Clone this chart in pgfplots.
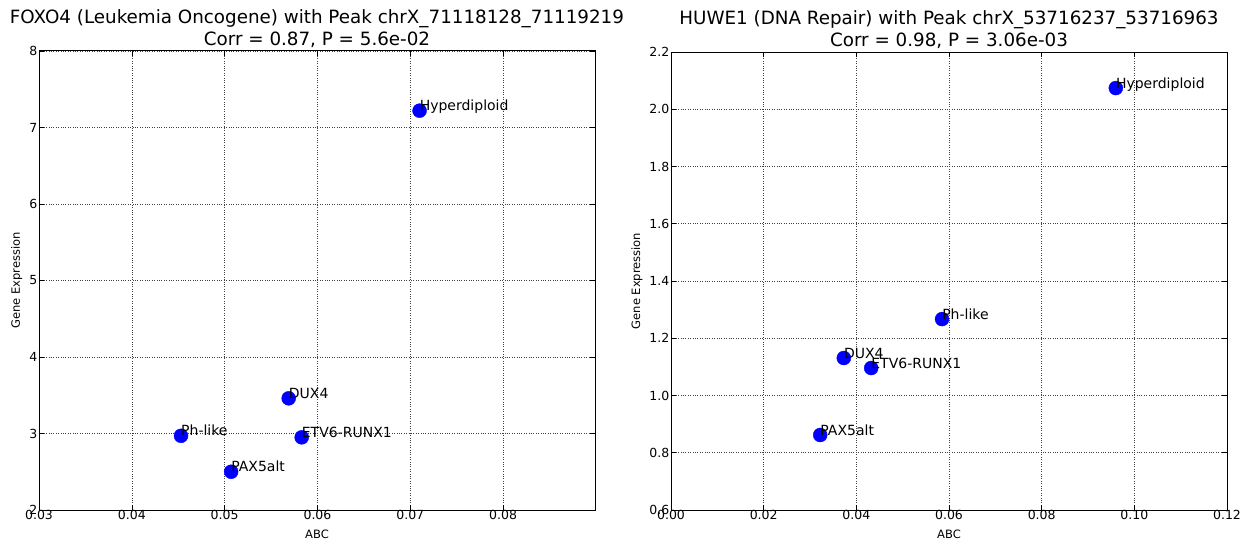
\documentclass[border=0pt]{standalone}
\usepackage{fontspec}
\setmainfont{DejaVu Sans}
\usepackage{pgfplots}
\pgfplotsset{compat=1.18}
\begin{document}
\begin{tikzpicture}[x=1pt,y=1pt]
\pgfplotsset{
  myax/.style={
    scale only axis, width=556pt, height=459pt,
    anchor=south west,
    axis line style={black, line width=1pt},
    tick align=inside, major tick length=5pt,
    tick style={black, line width=0.6pt},
    grid=major, major grid style={black!75, dotted, line width=0.6pt},
    /pgf/number format/assume math mode=true,
    scaled ticks=false,
    tick label style={font=\fontsize{12.5}{14}\selectfont},
    xticklabel style={inner sep=1pt, yshift=1pt},
    yticklabel style={inner sep=1.5pt},
    label style={font=\fontsize{11.5}{13}\selectfont},
    xlabel={ABC}, ylabel={Gene Expression},
    xlabel style={yshift=-6pt},
    ylabel style={yshift=2pt},
    title style={font=\fontsize{18.3}{22}\selectfont, align=center, yshift=-6pt},
    nodes near coords style={anchor=base west, inner sep=0pt, text=black,
      font=\fontsize{14}{16}\selectfont},
  }
}
\begin{axis}[myax, at={(39pt,32pt)},
  xmin=0.03, xmax=0.0899, ymin=2, ymax=8,
  xtick={0.03,0.04,0.05,0.06,0.07,0.08},
  ytick={2,3,4,5,6,7,8},
  xticklabel style={/pgf/number format/fixed, /pgf/number format/precision=2, /pgf/number format/fixed zerofill},
  title={FOXO4 (Leukemia Oncogene) with Peak chrX\_71118128\_71119219\\Corr = 0.87, P = 5.6e-02}]
\addplot[only marks, mark=*, mark size=7pt, color={rgb,1:red,0;green,0;blue,1},
  nodes near coords, point meta=explicit symbolic]
  table[meta=label] {
x y label
0.0710 7.22 Hyperdiploid
0.0569 3.46 DUX4
0.0453 2.97 Ph-like
0.0507 2.50 PAX5alt
0.0583 2.95 ETV6-RUNX1
};
\end{axis}
\begin{axis}[myax, at={(671pt,32pt)}, height=458pt,
  xmin=0, xmax=0.12, ymin=0.6, ymax=2.2,
  xtick={0,0.02,0.04,0.06,0.08,0.10,0.12},
  ytick={0.6,0.8,1.0,1.2,1.4,1.6,1.8,2.0,2.2},
  xticklabel style={/pgf/number format/fixed, /pgf/number format/precision=2, /pgf/number format/fixed zerofill},
  yticklabel style={/pgf/number format/fixed, /pgf/number format/precision=1, /pgf/number format/fixed zerofill},
  title={HUWE1 (DNA Repair) with Peak chrX\_53716237\_53716963\\Corr = 0.98, P = 3.06e-03}]
\addplot[only marks, mark=*, mark size=7pt, color={rgb,1:red,0;green,0;blue,1},
  nodes near coords, point meta=explicit symbolic]
  table[meta=label] {
x y label
0.0960 2.074 Hyperdiploid
0.0585 1.267 Ph-like
0.0373 1.131 DUX4
0.0432 1.096 ETV6-RUNX1
0.0322 0.862 PAX5alt
};
\end{axis}
\pgfresetboundingbox
\useasboundingbox (0,0) rectangle (1241pt,542pt);
\end{tikzpicture}
\end{document}
